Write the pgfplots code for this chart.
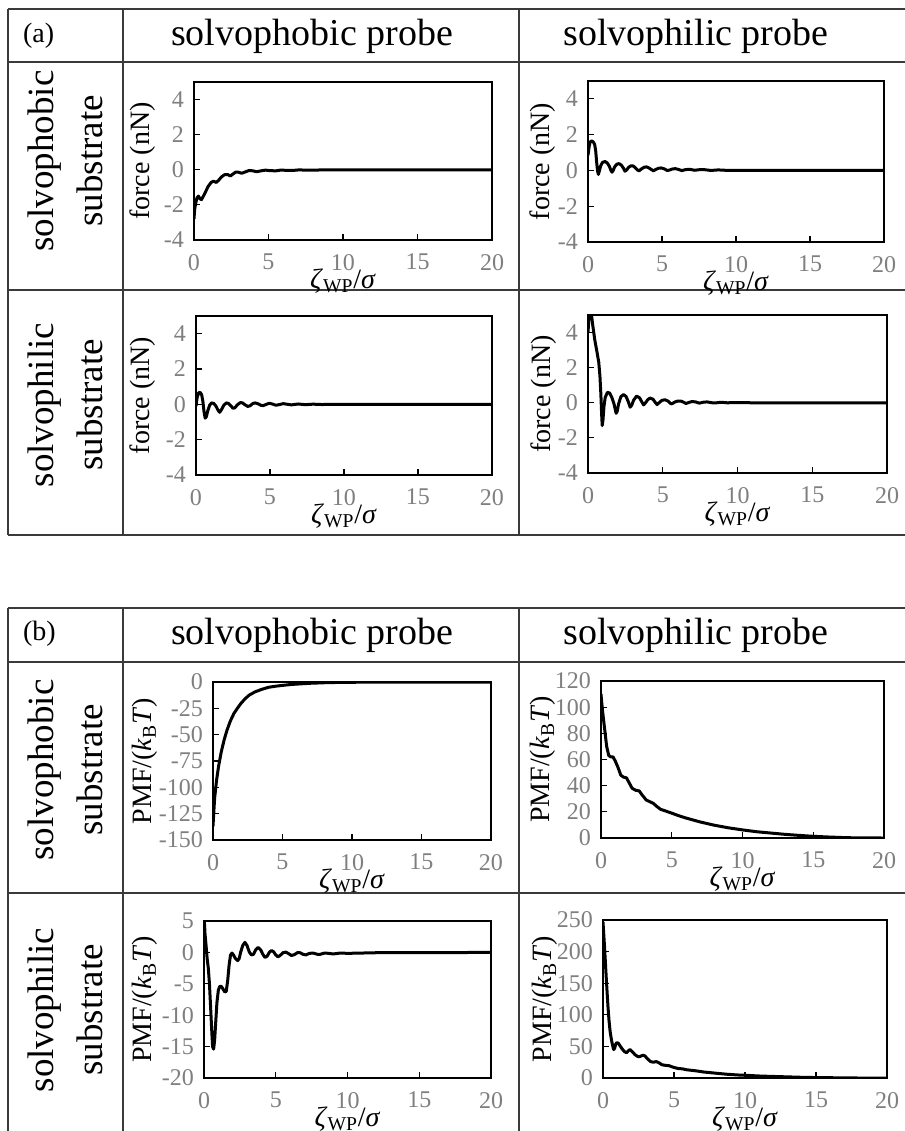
\documentclass[border=0pt]{standalone}
\usepackage{fontspec}
\setmainfont{Liberation Serif}
\usepackage{pgfplots}
\pgfplotsset{compat=1.18}
\definecolor{tickgray}{HTML}{7F7F7F}
\definecolor{rulegray}{HTML}{3A3A3A}

\pgfplotsset{
  panel/.style={
    scale only axis, anchor=south west,
    xmin=0, xmax=20, xtick={0,5,10,15,20},
    tick pos=left, tick align=inside, major tick length=3pt,
    axis line style={line width=0.6pt},
    every tick/.style={black, line width=0.6pt},
    /pgf/number format/assume math mode=true,
    ticklabel style={font=\fontsize{12}{12}\selectfont, text=tickgray},
    xticklabel style={yshift=-3.5pt},
    yticklabel style={xshift=-1.5pt},
    xlabel={\textit{ζ}\textsubscript{WP}/\textit{σ}},
    every axis x label/.style={at={(axis description cs:0.5,0)}, anchor=center, yshift=-20.5pt, font=\fontsize{14}{14}\selectfont},
    every axis y label/.style={rotate=90, anchor=center, font=\fontsize{14}{14}\selectfont},
    cycle list={{black, mark=none, smooth, tension=0.3}},
    every axis plot post/.append style={line width=1.5pt, line join=round},
  },
  force/.style={panel, ymin=-4, ymax=5, ytick={-4,-2,0,2,4}, ylabel={force (nN)}},
  pmf/.style={panel, ylabel={PMF/(\textit{k}\textsubscript{B}\textit{T})}},
}

\begin{document}
\begin{tikzpicture}
\path[use as bounding box] (0pt,0pt) rectangle (452.5pt,-565.5pt);

% table frames
\begin{scope}[rulegray, line width=0.75pt]
\foreach \y in {-4.5,-31,-145,-267.5,-304,-331,-446.5}
  \draw (4pt,\y pt) -- (455pt,\y pt);
\foreach \x in {4,61.5,259.5} {
  \draw (\x pt,-4.5pt) -- (\x pt,-267.5pt);
  \draw (\x pt,-304pt) -- (\x pt,-570pt);
}
\end{scope}

% headers
\node[anchor=west, font=\fontsize{14}{14}\selectfont] at (8pt,-18pt) {(a)};
\node[font=\fontsize{19}{19}\selectfont] at (156pt,-18pt) {solvophobic probe};
\node[font=\fontsize{19}{19}\selectfont] at (348pt,-18pt) {solvophilic probe};
\node[anchor=west, font=\fontsize{14}{14}\selectfont] at (8pt,-317pt) {(b)};
\node[font=\fontsize{19}{19}\selectfont] at (156pt,-317.5pt) {solvophobic probe};
\node[font=\fontsize{19}{19}\selectfont] at (348pt,-317.5pt) {solvophilic probe};

% row labels
\node[rotate=90, align=center, font=\fontsize{18.5}{24.5}\selectfont] at (32.5pt,-80.5pt) {solvophobic\\substrate};
\node[rotate=90, align=center, font=\fontsize{18.5}{24.5}\selectfont] at (32.5pt,-202.5pt) {solvophilic\\substrate};
\node[rotate=90, align=center, font=\fontsize{18.5}{24.5}\selectfont] at (32.5pt,-385pt) {solvophobic\\substrate};
\node[rotate=90, align=center, font=\fontsize{18.5}{24.5}\selectfont] at (32.5pt,-505pt) {solvophilic\\substrate};

% (a) force, solvophobic probe / solvophobic substrate
\begin{axis}[force, at={(97pt,-120pt)}, width=149pt, height=79pt,
  ylabel style={at={(axis description cs:-0.171,0.5)}}]
\addplot coordinates {(0,-2.8) (0.04,-2.3) (0.1,-1.95) (0.2,-1.6) (0.3,-1.5) (0.4,-1.65) (0.5,-1.7) (0.6,-1.55) (0.75,-1.3) (0.95,-0.95) (1.15,-0.72) (1.3,-0.65) (1.5,-0.72) (1.65,-0.6) (1.85,-0.4) (2.05,-0.28) (2.25,-0.27) (2.45,-0.35) (2.6,-0.25) (2.8,-0.13) (3.0,-0.14) (3.2,-0.2) (3.45,-0.12) (3.7,-0.04) (3.95,-0.06) (4.2,-0.11) (4.5,-0.06) (4.8,-0.02) (5.1,-0.05) (5.5,-0.06) (5.8,-0.02) (6.2,-0.03) (6.6,-0.04) (7,-0.01) (8,-0.02) (9,0) (20,0)};
\end{axis}

% (a) force, solvophilic probe / solvophobic substrate
\begin{axis}[force, at={(294pt,-121pt)}, width=148pt, height=80.5pt,
  ylabel style={at={(axis description cs:-0.152,0.5)}}]
\addplot coordinates {(0,0.85) (0.08,1.35) (0.15,1.6) (0.25,1.65) (0.35,1.6) (0.45,1.45) (0.52,1.1) (0.58,0.5) (0.64,0.0) (0.7,-0.22) (0.76,-0.05) (0.85,0.25) (0.98,0.45) (1.15,0.5) (1.3,0.42) (1.45,0.22) (1.55,0.0) (1.62,-0.1) (1.7,0.0) (1.8,0.2) (1.95,0.35) (2.1,0.38) (2.25,0.3) (2.4,0.12) (2.5,-0.04) (2.6,0.02) (2.75,0.18) (2.9,0.26) (3.05,0.25) (3.2,0.15) (3.35,0.02) (3.45,-0.02) (3.6,0.08) (3.8,0.18) (3.95,0.2) (4.1,0.15) (4.3,0.04) (4.42,-0.02) (4.55,0.04) (4.75,0.12) (4.95,0.14) (5.15,0.09) (5.35,0.0) (5.5,0.02) (5.7,0.08) (5.9,0.1) (6.1,0.06) (6.35,-0.01) (6.6,0.05) (6.9,0.06) (7.2,0.01) (7.5,0.04) (7.9,0.04) (8.3,0.0) (8.8,0.03) (9.5,0.0) (20,0)};
\end{axis}

% (a) force, solvophobic probe / solvophilic substrate
\begin{axis}[force, at={(98pt,-237.5pt)}, width=148pt, height=79.5pt,
  ylabel style={at={(axis description cs:-0.179,0.5)}}]
\addplot coordinates {(0,-0.1) (0.08,0.4) (0.18,0.65) (0.28,0.68) (0.38,0.55) (0.46,0.2) (0.54,-0.4) (0.62,-0.78) (0.7,-0.7) (0.8,-0.35) (0.92,-0.05) (1.05,0.08) (1.2,0.05) (1.35,-0.1) (1.5,-0.35) (1.6,-0.45) (1.72,-0.3) (1.88,-0.05) (2.05,0.08) (2.2,0.05) (2.35,-0.08) (2.5,-0.22) (2.62,-0.2) (2.8,-0.02) (3.0,0.1) (3.15,0.08) (3.3,-0.02) (3.5,-0.12) (3.65,-0.08) (3.85,0.05) (4.0,0.08) (4.2,0.03) (4.4,-0.06) (4.55,-0.07) (4.75,0.0) (4.95,0.06) (5.15,0.02) (5.4,-0.05) (5.6,-0.02) (5.9,0.04) (6.2,0.0) (6.45,-0.03) (6.9,0.02) (7.4,-0.02) (7.9,0.01) (8.5,-0.01) (9.5,0) (20,0)};
\end{axis}

% (a) force, solvophilic probe / solvophilic substrate
\begin{axis}[force, at={(294pt,-236.5pt)}, width=149.5pt, height=79pt,
  ylabel style={at={(axis description cs:-0.150,0.5)}}]
\addplot coordinates {(0,4.0) (0.05,4.7) (0.12,5.2) (0.22,5.1) (0.32,4.4) (0.45,3.6) (0.6,2.9) (0.72,2.3) (0.8,1.5) (0.86,0.5) (0.91,-0.6) (0.95,-1.3) (1.0,-1.0) (1.07,-0.2) (1.15,0.3) (1.3,0.6) (1.45,0.55) (1.6,0.3) (1.75,-0.1) (1.88,-0.6) (1.95,-0.5) (2.05,-0.05) (2.2,0.35) (2.38,0.47) (2.55,0.35) (2.7,0.05) (2.82,-0.25) (2.92,-0.15) (3.05,0.15) (3.25,0.38) (3.45,0.28) (3.6,0.05) (3.72,-0.12) (3.85,0.0) (4.0,0.18) (4.15,0.27) (4.35,0.2) (4.5,0.02) (4.62,-0.1) (4.78,0.02) (4.95,0.14) (5.15,0.17) (5.35,0.1) (5.52,-0.04) (5.62,-0.06) (5.8,0.04) (6.0,0.1) (6.2,0.1) (6.4,0.03) (6.55,-0.04) (6.75,0.02) (6.95,0.07) (7.2,0.05) (7.45,-0.02) (7.7,0.03) (7.95,0.05) (8.3,0.0) (8.6,0.0) (8.9,0.03) (9.3,0.0) (10,0.01) (11,0) (20,0)};
\end{axis}

% (b) PMF, solvophobic probe / solvophobic substrate
\begin{axis}[pmf, at={(106.5pt,-420pt)}, width=139pt, height=79pt,
  ymin=-150, ymax=0, ytick={-150,-125,-100,-75,-50,-25,0},
  ylabel style={at={(axis description cs:-0.245,0.5)}}]
\addplot coordinates {(0,-137) (0.05,-125) (0.12,-110) (0.25,-94) (0.4,-80) (0.6,-66) (0.8,-55) (1.0,-46) (1.25,-37) (1.5,-30) (1.75,-25) (2.0,-20.5) (2.3,-16) (2.6,-12.5) (3.0,-9.5) (3.5,-7) (4.0,-5) (4.5,-4) (5.0,-3.2) (5.5,-2.5) (6,-2) (7,-1.2) (8,-0.7) (9,-0.4) (10,-0.25) (12,-0.1) (14,-0.05) (20,0)};
\end{axis}

% (b) PMF, solvophilic probe / solvophobic substrate
\begin{axis}[pmf, at={(300.5pt,-419pt)}, width=141.5pt, height=78.5pt,
  ymin=0, ymax=120, ytick={0,20,40,60,80,100,120},
  ylabel style={at={(axis description cs:-0.205,0.5)}}]
\addplot coordinates {(0,110) (0.1,98) (0.25,84) (0.4,70) (0.55,63) (0.7,62) (0.85,62) (1.0,59) (1.2,54) (1.4,48) (1.6,46.5) (1.8,46) (2.0,42) (2.2,38) (2.45,36.5) (2.7,36) (2.9,33) (3.2,29) (3.5,27.5) (3.7,26.5) (3.9,24.5) (4.2,22) (4.6,20.5) (5,19) (5.5,17) (6,15.3) (7,12.3) (8,9.8) (9,7.8) (10,6.2) (11,4.8) (12,3.8) (13,2.8) (14,2) (15,1.3) (16,0.8) (17,0.4) (18,0.1) (20,0)};
\end{axis}

% (b) PMF, solvophobic probe / solvophilic substrate
\begin{axis}[pmf, at={(102pt,-539pt)}, width=143.5pt, height=78.5pt,
  ymin=-20, ymax=5, ytick={-20,-15,-10,-5,0,5},
  ylabel style={at={(axis description cs:-0.206,0.5)}}]
\addplot coordinates {(0,6) (0.07,3) (0.14,1.2) (0.22,-1) (0.3,-2.5) (0.38,-5) (0.46,-8.7) (0.54,-12.5) (0.6,-15) (0.67,-15.4) (0.74,-14) (0.82,-11) (0.9,-8) (1.0,-6) (1.1,-5.4) (1.2,-5.4) (1.32,-5.8) (1.45,-6.3) (1.55,-6.2) (1.65,-4.5) (1.75,-2) (1.85,-0.4) (1.95,-0.1) (2.05,-0.4) (2.2,-1.0) (2.35,-1.3) (2.45,-1.0) (2.55,0) (2.7,1.1) (2.85,1.6) (3.0,1.1) (3.15,0.1) (3.3,-0.4) (3.45,-0.3) (3.6,0.4) (3.77,0.8) (3.95,0.4) (4.1,-0.3) (4.25,-0.8) (4.4,-0.6) (4.55,0.0) (4.7,0.3) (4.85,0.1) (5.0,-0.4) (5.15,-0.7) (5.3,-0.5) (5.5,-0.05) (5.7,0.05) (5.9,-0.2) (6.1,-0.5) (6.3,-0.35) (6.5,-0.05) (6.7,-0.05) (6.9,-0.3) (7.1,-0.4) (7.35,-0.15) (7.6,-0.1) (7.9,-0.3) (8.1,-0.3) (8.4,-0.1) (8.7,-0.15) (9,-0.25) (9.5,-0.1) (10,-0.15) (11,-0.1) (12,-0.05) (14,-0.05) (20,0)};
\end{axis}

% (b) PMF, solvophilic probe / solvophilic substrate
\begin{axis}[pmf, at={(301.5pt,-539pt)}, width=142pt, height=79pt,
  ymin=0, ymax=250, ytick={0,50,100,150,200,250},
  ylabel style={at={(axis description cs:-0.204,0.5)}}]
\addplot coordinates {(0,247) (0.06,225) (0.12,203) (0.2,170) (0.28,139) (0.35,113) (0.42,92) (0.5,74) (0.59,61) (0.67,52) (0.75,45) (0.82,47) (0.9,54) (0.98,56) (1.08,55) (1.2,51) (1.35,46) (1.5,42) (1.65,40) (1.78,43) (1.9,45) (2.05,42) (2.25,37) (2.45,34) (2.6,34) (2.8,36) (2.95,35) (3.15,30) (3.35,26) (3.55,25) (3.75,26) (3.95,24) (4.15,21) (4.4,20) (4.65,19.5) (4.95,17) (5.3,15) (5.6,14.5) (5.9,13) (6.5,11.5) (7.1,9.5) (8,7.5) (8.7,6) (9.5,4.8) (10.1,4.2) (11,3.2) (11.8,2.6) (13,1.8) (14.2,1) (15.5,0.6) (17,0.2) (18,0) (20,0)};
\end{axis}
\end{tikzpicture}
\end{document}
